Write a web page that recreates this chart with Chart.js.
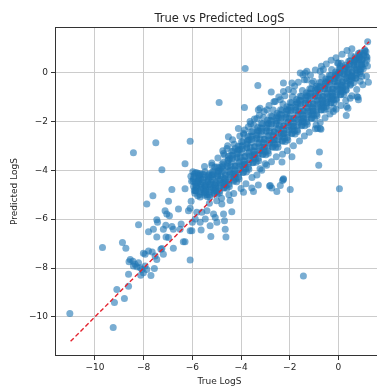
<!DOCTYPE html>
<html>
<head>
<meta charset="utf-8">
<script src="https://cdn.jsdelivr.net/npm/chart.js@4"></script>
<style>
    html, body { margin: 0; padding: 0; overflow: hidden; background: #fff; }
    canvas { display: block; }
</style>
</head>
<body>
<canvas id="myChart" width="395" height="387"></canvas>
<script>
// main diagonal band (true, predicted)
var bandTrue = [
    -6.03, -5.95, -6.06, -5.92, -5.98,
    -5.83, -5.75, -5.86, -5.72, -5.78, -5.88,
    -5.63, -5.55, -5.66, -5.52, -5.58, -5.68, -5.50,
    -5.43, -5.35, -5.46, -5.32, -5.38, -5.48, -5.30, -5.41,
    -5.23, -5.15, -5.26, -5.12, -5.18, -5.28, -5.10, -5.21,
    -5.03, -4.95, -5.06, -4.92, -4.98, -5.08, -4.90, -5.01,
    -4.83, -4.75, -4.86, -4.72, -4.78, -4.88, -4.70, -4.81,
    -4.63, -4.55, -4.66, -4.52, -4.58, -4.68, -4.50, -4.61,
    -4.43, -4.35, -4.46, -4.32, -4.38, -4.48, -4.30, -4.41,
    -4.23, -4.15, -4.26, -4.12, -4.18, -4.28, -4.10, -4.21,
    -4.03, -3.95, -4.06, -3.92, -3.98, -4.08, -3.90, -4.01,
    -3.83, -3.75, -3.86, -3.72, -3.78, -3.88, -3.70, -3.81,
    -3.63, -3.55, -3.66, -3.52, -3.58, -3.68, -3.50, -3.61,
    -3.43, -3.35, -3.46, -3.32, -3.38, -3.48, -3.30, -3.41,
    -3.23, -3.15, -3.26, -3.12, -3.18, -3.28, -3.10, -3.21,
    -3.03, -2.95, -3.06, -2.92, -2.98, -3.08, -2.90, -3.01,
    -2.83, -2.75, -2.86, -2.72, -2.78, -2.88, -2.70, -2.81,
    -2.63, -2.55, -2.66, -2.52, -2.58, -2.68, -2.50, -2.61,
    -2.43, -2.35, -2.46, -2.32, -2.38, -2.48, -2.30, -2.41,
    -2.23, -2.15, -2.26, -2.12, -2.18, -2.28, -2.10, -2.21,
    -2.03, -1.95, -2.06, -1.92, -1.98, -2.08, -1.90, -2.01,
    -1.83, -1.75, -1.86, -1.72, -1.78, -1.88, -1.70, -1.81,
    -1.63, -1.55, -1.66, -1.52, -1.58, -1.68, -1.50, -1.61,
    -1.43, -1.35, -1.46, -1.32, -1.38, -1.48, -1.30, -1.41,
    -1.23, -1.15, -1.26, -1.12, -1.18, -1.28, -1.10, -1.21,
    -1.03, -0.95, -1.06, -0.92, -0.98, -1.08, -0.90, -1.01,
    -0.83, -0.75, -0.86, -0.72, -0.78, -0.88, -0.70, -0.81,
    -0.63, -0.55, -0.66, -0.52, -0.58, -0.68, -0.50, -0.61,
    -0.43, -0.35, -0.46, -0.32, -0.38, -0.48, -0.30, -0.41,
    -0.23, -0.15, -0.26, -0.12, -0.18, -0.28, -0.10, -0.21,
    -0.03, 0.05, -0.06, 0.08, 0.02, -0.08, 0.10, -0.01,
    0.17, 0.25, 0.14, 0.28, 0.22, 0.12, 0.30, 0.19,
    0.37, 0.45, 0.34, 0.48, 0.42, 0.32, 0.50,
    0.57, 0.65, 0.54, 0.68, 0.62, 0.52, 0.70,
    0.77, 0.85, 0.74, 0.88, 0.82, 0.72,
    0.97, 1.05, 0.94, 1.08, 1.02,
    1.13, 1.17
]
var bandPred = [
    -4.45, -4.67, -4.25, -4.83, -4.06,
    -4.66, -4.44, -4.85, -4.24, -5.04, -4.10,
    -4.55, -4.77, -4.35, -4.93, -4.16, -5.10, -4.63,
    -4.66, -4.42, -4.87, -4.21, -5.08, -4.06, -4.57, -4.99,
    -4.49, -4.73, -4.28, -4.91, -4.07, -5.09, -4.58, -4.19,
    -4.52, -4.26, -4.74, -4.03, -4.97, -3.87, -4.42, -4.87,
    -4.23, -4.51, -3.99, -4.72, -3.74, -4.93, -4.34, -3.88,
    -4.18, -3.86, -4.46, -3.58, -4.74, -3.38, -4.06, -4.62,
    -3.82, -4.16, -3.52, -4.41, -3.22, -4.67, -3.94, -3.39,
    -3.84, -3.48, -4.16, -3.17, -4.47, -2.94, -3.71, -4.34,
    -3.46, -3.82, -3.15, -4.09, -2.83, -4.36, -3.60, -3.01,
    -3.44, -3.08, -3.76, -2.77, -4.07, -2.54, -3.31, -3.94,
    -3.06, -3.42, -2.75, -3.69, -2.43, -3.96, -3.20, -2.61,
    -3.04, -2.68, -3.36, -2.37, -3.67, -2.14, -2.91, -3.54,
    -2.71, -3.07, -2.40, -3.34, -2.08, -3.61, -2.85, -2.26,
    -2.74, -2.38, -3.06, -2.07, -3.37, -1.84, -2.61, -3.24,
    -2.41, -2.77, -2.10, -3.04, -1.78, -3.31, -2.55, -1.96,
    -2.44, -2.08, -2.76, -1.77, -3.07, -1.54, -2.31, -2.94,
    -2.16, -2.52, -1.85, -2.79, -1.53, -3.06, -2.30, -1.71,
    -2.19, -1.83, -2.51, -1.52, -2.82, -1.29, -2.06, -2.69,
    -1.86, -2.22, -1.55, -2.49, -1.23, -2.76, -2.00, -1.41,
    -1.89, -1.53, -2.21, -1.22, -2.52, -0.99, -1.76, -2.39,
    -1.57, -1.91, -1.27, -2.16, -0.97, -2.42, -1.69, -1.14,
    -1.59, -1.25, -1.88, -0.95, -2.18, -0.74, -1.46, -2.05,
    -1.27, -1.61, -0.97, -1.86, -0.67, -2.12, -1.39, -0.84,
    -1.29, -0.95, -1.58, -0.65, -1.88, -0.44, -1.16, -1.75,
    -0.97, -1.29, -0.69, -1.53, -0.41, -1.77, -1.09, -0.57,
    -0.98, -0.66, -1.26, -0.38, -1.54, -0.18, -0.86, -1.42,
    -0.67, -0.99, -0.39, -1.23, -0.11, -1.47, -0.79, -0.27,
    -0.68, -0.36, -0.96, -0.08, -1.24, 0.12, -0.56, -1.12,
    -0.38, -0.68, -0.11, -0.90, 0.15, -1.13, -0.49, 0.00,
    -0.38, -0.08, -0.64, 0.19, -0.90, 0.38, -0.26, -0.79,
    -0.03, -0.31, 0.22, -0.52, 0.46, -0.73, -0.14,
    0.04, 0.30, -0.19, 0.52, -0.42, 0.69, 0.13,
    0.36, 0.12, 0.57, -0.06, 0.78, -0.24,
    0.50, 0.70, 0.33, 0.88, 0.15,
    0.85, 0.62
]

// in-between columns of the band, read from the densest part
var denseTrue = [
    -5.86, -5.95, -5.83, -5.92, -5.90, -5.97, -5.85, -5.94, -5.88,
    -5.66, -5.75, -5.63, -5.72, -5.70, -5.77, -5.65, -5.74, -5.68,
    -5.46, -5.55, -5.43, -5.52, -5.50, -5.57, -5.45, -5.54, -5.48,
    -5.26, -5.35, -5.23, -5.32, -5.30, -5.37, -5.25, -5.34, -5.28,
    -5.06, -5.15, -5.03, -5.12, -5.10, -5.17, -5.05, -5.14, -5.08,
    -4.86, -4.95, -4.83, -4.92, -4.90, -4.97, -4.85, -4.94, -4.88,
    -4.66, -4.75, -4.63, -4.72, -4.70, -4.77, -4.65, -4.74, -4.68,
    -4.46, -4.55, -4.43, -4.52, -4.50, -4.57, -4.45, -4.54, -4.48,
    -4.26, -4.35, -4.23, -4.32, -4.30, -4.37, -4.25, -4.34, -4.28,
    -4.06, -4.15, -4.03, -4.12, -4.10, -4.17, -4.05, -4.14, -4.08,
    -3.86, -3.95, -3.83, -3.92, -3.90, -3.97, -3.85, -3.94, -3.88,
    -3.66, -3.75, -3.63, -3.72, -3.70, -3.77, -3.65, -3.74, -3.68,
    -3.46, -3.55, -3.43, -3.52, -3.50, -3.57, -3.45, -3.54, -3.48,
    -3.26, -3.35, -3.23, -3.32, -3.30, -3.37, -3.25, -3.34, -3.28,
    -3.06, -3.15, -3.03, -3.12, -3.10, -3.17, -3.05, -3.14, -3.08,
    -2.86, -2.95, -2.83, -2.92, -2.90, -2.97, -2.85, -2.94, -2.88,
    -2.66, -2.75, -2.63, -2.72, -2.70, -2.77, -2.65, -2.74, -2.68,
    -2.46, -2.55, -2.43, -2.52, -2.50, -2.57, -2.45, -2.54, -2.48,
    -2.26, -2.35, -2.23, -2.32, -2.30, -2.37, -2.25, -2.34, -2.28,
    -2.06, -2.15, -2.03, -2.12, -2.10, -2.17, -2.05, -2.14, -2.08,
    -1.86, -1.95, -1.83, -1.92, -1.90, -1.97, -1.85, -1.94, -1.88,
    -1.66, -1.75, -1.63, -1.72, -1.70, -1.77, -1.65, -1.74, -1.68,
    -1.46, -1.55, -1.43, -1.52, -1.50, -1.57, -1.45, -1.54, -1.48,
    -1.26, -1.35, -1.23, -1.32, -1.30, -1.37, -1.25, -1.34, -1.28,
    -1.06, -1.15, -1.03, -1.12, -1.10, -1.17, -1.05, -1.14, -1.08,
    -0.86, -0.95, -0.83, -0.92, -0.90, -0.97, -0.85, -0.94, -0.88,
    -0.66, -0.75, -0.63, -0.72, -0.70, -0.77, -0.65, -0.74, -0.68,
    -0.46, -0.55, -0.43, -0.52, -0.50, -0.57, -0.45, -0.54, -0.48,
    -0.26, -0.35, -0.23, -0.32, -0.30, -0.37, -0.25, -0.34, -0.28,
    -0.06, -0.15, -0.03, -0.12, -0.10, -0.17, -0.05, -0.14, -0.08,
    0.14, 0.05, 0.17, 0.08, 0.10, 0.03, 0.15, 0.06, 0.12,
    0.34, 0.25, 0.37, 0.28, 0.30, 0.23, 0.35, 0.26, 0.32,
    0.54, 0.45, 0.57, 0.48, 0.50, 0.43, 0.55, 0.46, 0.52,
    0.74, 0.65, 0.77, 0.68, 0.70, 0.63, 0.75, 0.66, 0.72,
    0.94, 0.85, 0.97, 0.88, 0.90, 0.83, 0.95, 0.86, 0.92,
    1.14, 1.05, 1.17, 1.08, 1.10
]
var densePred = [
    -4.55, -4.36, -4.74, -4.16, -4.94, -4.44, -4.66, -4.27, -4.83,
    -4.60, -4.41, -4.79, -4.21, -4.99, -4.49, -4.71, -4.32, -4.88,
    -4.60, -4.39, -4.81, -4.18, -5.02, -4.48, -4.72, -4.30, -4.90,
    -4.58, -4.37, -4.79, -4.16, -5.00, -4.46, -4.70, -4.28, -4.88,
    -4.50, -4.27, -4.73, -4.04, -4.96, -4.37, -4.63, -4.17, -4.83,
    -4.38, -4.14, -4.62, -3.90, -4.86, -4.24, -4.52, -4.04, -4.72,
    -4.20, -3.94, -4.46, -3.67, -4.73, -4.05, -4.35, -3.82, -4.58,
    -4.00, -3.71, -4.29, -3.43, -4.57, -3.84, -4.16, -3.59, -4.41,
    -3.83, -3.52, -4.14, -3.21, -4.45, -3.65, -4.01, -3.39, -4.27,
    -3.65, -3.33, -3.97, -3.02, -4.28, -3.47, -3.83, -3.20, -4.10,
    -3.45, -3.13, -3.77, -2.82, -4.08, -3.27, -3.63, -3.00, -3.90,
    -3.25, -2.93, -3.57, -2.62, -3.88, -3.07, -3.43, -2.80, -3.70,
    -3.05, -2.73, -3.37, -2.42, -3.68, -2.87, -3.23, -2.60, -3.50,
    -2.88, -2.56, -3.20, -2.25, -3.51, -2.70, -3.06, -2.43, -3.33,
    -2.73, -2.41, -3.05, -2.10, -3.36, -2.55, -2.91, -2.28, -3.18,
    -2.58, -2.26, -2.90, -1.95, -3.21, -2.40, -2.76, -2.13, -3.03,
    -2.43, -2.11, -2.75, -1.80, -3.06, -2.25, -2.61, -1.98, -2.88,
    -2.30, -1.98, -2.62, -1.67, -2.93, -2.12, -2.48, -1.85, -2.75,
    -2.18, -1.86, -2.50, -1.55, -2.81, -2.00, -2.36, -1.73, -2.63,
    -2.03, -1.71, -2.35, -1.40, -2.66, -1.85, -2.21, -1.58, -2.48,
    -1.88, -1.56, -2.20, -1.25, -2.51, -1.70, -2.06, -1.43, -2.33,
    -1.73, -1.42, -2.04, -1.11, -2.35, -1.55, -1.91, -1.29, -2.17,
    -1.58, -1.28, -1.88, -0.98, -2.18, -1.41, -1.75, -1.15, -2.01,
    -1.43, -1.13, -1.73, -0.83, -2.03, -1.26, -1.60, -1.00, -1.86,
    -1.28, -0.98, -1.58, -0.68, -1.88, -1.11, -1.45, -0.85, -1.71,
    -1.13, -0.84, -1.42, -0.56, -1.70, -0.97, -1.29, -0.72, -1.54,
    -0.98, -0.70, -1.26, -0.42, -1.54, -0.82, -1.14, -0.58, -1.38,
    -0.83, -0.55, -1.11, -0.27, -1.39, -0.67, -0.99, -0.43, -1.23,
    -0.68, -0.40, -0.96, -0.12, -1.24, -0.52, -0.84, -0.28, -1.08,
    -0.53, -0.26, -0.80, 0.02, -1.08, -0.37, -0.69, -0.14, -0.92,
    -0.38, -0.12, -0.64, 0.15, -0.91, -0.23, -0.53, 0.00, -0.76,
    -0.20, 0.05, -0.45, 0.30, -0.70, -0.06, -0.34, 0.16, -0.56,
    0.00, 0.24, -0.24, 0.48, -0.48, 0.14, -0.14, 0.34, -0.34,
    0.20, 0.42, -0.02, 0.63, -0.23, 0.32, 0.08, 0.51, -0.11,
    0.42, 0.61, 0.23, 0.81, 0.03, 0.53, 0.31, 0.70, 0.14,
    0.65, 0.79, 0.51, 0.93, 0.37
]

// ragged upper and lower edges of the band
var edgeTrue = [
    -5.50, -5.20, -4.95, -4.75, -4.55, -4.35, -4.05, -3.85, -3.60, -3.45,
    -3.25, -3.05, -2.85, -2.65, -2.45, -2.20, -2.05, -1.80, -1.65, -1.40,
    -1.15, -0.95, -0.70, -0.50, -0.30, -0.10, 0.15, 0.35,
    -5.30, -5.00, -4.80, -4.50, -4.30, -4.00, -3.80, -3.55, -3.35, -3.15,
    -2.95, -2.75, -2.55, -2.30, -2.10, -1.85, -1.60, -1.40, -1.20, -0.95,
    -0.75, -0.55, -0.35, -0.10, 0.10, 0.30, 0.55, 0.75, 1.00, 1.15
]
var edgePred = [
    -3.85, -3.70, -3.50, -3.20, -3.00, -2.75, -2.60, -2.35, -2.10, -1.90,
    -1.75, -1.60, -1.35, -1.20, -1.00, -0.95, -0.70, -0.55, -0.40, -0.30,
    -0.10, 0.10, 0.25, 0.35, 0.50, 0.60, 0.75, 0.90,
    -5.35, -5.25, -5.15, -5.00, -4.95, -4.75, -4.55, -4.30, -4.20, -4.00,
    -3.80, -3.65, -3.45, -3.35, -3.20, -3.00, -2.80, -2.60, -2.45, -2.30,
    -2.05, -1.85, -1.70, -1.50, -1.35, -1.15, -0.95, -0.70, -0.50, -0.15
]

// scattered points away from the band (true, predicted)
var spreadTrue = [
    -11.03, -9.25, -9.69, -8.87, -8.73, -8.60, -8.62, -9.10, -9.20, -8.79, -8.62,
    -8.55, -8.44, -8.35, -8.21, -8.42, -8.28, -8.14, -8.07, -7.94, -7.87, -8.01, -8.12,
    -7.56, -7.70, -7.65, -7.80, -7.94, -8.01, -7.46, -7.53, -7.19, -6.09, -7.29, -7.25,
    -6.78, -6.30, -6.37, -7.46, -7.08, -6.98, -6.09, -6.02, -5.64,
    -8.21, -7.80, -7.60, -7.19, -7.09, -6.84, -6.78, -6.50, -6.46, -7.46, -7.43,
    -7.12, -7.05, -6.94, -6.16, -6.09, -6.57, -7.62, -7.87, -6.05, -6.98,
    -6.84, -6.30, -7.25, -5.82, -5.68, -5.75, -5.88, -6.00,
    -4.45, -4.38, -4.79, -4.72, -4.68, -4.65, -4.62, -5.06, -4.99, -5.13, -5.24, -5.27,
    -5.68, -5.47, -5.88, -5.82, -5.61, -5.40,
    -8.42, -7.50, -6.09, -6.30, -4.90, -3.86, -3.83, -3.31,
    -4.52, -4.11, -3.29, -2.76, -2.26, -1.91, -1.85, -1.57, -1.46, -1.30, -1.37,
    -3.63, -3.35, -2.94, -2.60, -2.39, -3.22, -3.70, -3.90, -4.24, -4.58, -4.72,
    -5.20, -4.99, -3.90, -3.29, -3.49, -3.56, -2.83, -2.74, -2.53, -2.30, -2.26,
    -2.26, -2.39, -2.80, -1.98, -3.01, -3.22, -2.32, -1.91,
    -0.78, -0.81, -0.92, -0.75, -0.86, -0.72, -0.21, -0.48, -1.44, 0.04,
    1.20, 0.55, 0.89, 0.69, 0.86, 0.96, 1.19, 1.23, 0.96, 0.89,
    0.48, 0.80, 0.76, 0.82, 0.34, 0.32, 0.39, -0.21, 0.41, 0.55,
    0.00, 0.07, -0.04, -0.75, -0.62, -1.30, -1.03, -2.26
]
var spreadPred = [
    -9.86, -10.43, -7.16, -6.96, -7.19, -7.74, -8.26, -8.88, -9.41, -9.25, -8.75,
    -7.65, -7.72, -7.85, -7.78, -7.92, -7.95, -7.99, -8.06, -7.92, -8.06, -8.19, -8.30,
    -8.02, -8.31, -7.35, -7.30, -7.44, -7.40, -7.65, -7.51, -7.44, -7.67, -7.23, -7.20,
    -7.19, -6.93, -6.93, -6.73, -6.73, -6.75, -6.48, -6.48, -6.44,
    -6.23, -6.52, -6.41, -6.41, -6.25, -6.30, -6.41, -6.41, -6.20, -6.03, -6.13,
    -5.66, -5.79, -5.86, -5.66, -5.56, -5.59, -5.04, -5.38, -5.27, -5.27,
    -4.79, -4.76, -3.98, -4.10, -4.14, -4.14, -4.48, -6.13,
    -5.24, -5.70, -5.38, -5.79, -6.07, -6.41, -6.73, -5.93, -6.13, -5.79, -6.71, -6.27,
    -6.13, -6.00, -6.00, -5.72, -5.72, -5.66,
    -3.28, -2.88, -2.81, -3.73, -1.23, -1.43, 0.16, -0.53,
    -2.63, -2.29, -1.53, -0.80, -0.43, -0.43, -0.78, -0.02, -0.09, 0.05, -0.02,
    -2.01, -1.88, -1.53, -1.19, -1.12, -1.46, -2.22, -2.49, -3.11, -3.11, -3.32,
    -3.80, -3.87, -4.90, -4.60, -4.87, -4.73, -4.65, -4.73, -4.87, -4.42, -4.38,
    -4.35, -4.62, -4.62, -4.79, -3.73, -3.94, -3.66, -3.45,
    -3.25, -3.80, -2.15, -2.29, -2.29, -2.32, -1.60, -1.26, -8.33, -4.76,
    1.26, 0.97, 0.67, 0.46, 0.60, 0.53, 0.26, -0.40, -0.16, -0.36,
    -1.05, -1.01, -0.98, -1.12, -1.39, -1.76, -1.46, -1.46, -0.02, -0.16,
    0.39, 0.26, 0.39, 0.05, 0.12, -0.30, -0.36, -0.78
]

// y = x reference line and axis ticks
var lineTrue = [-11.0, 1.26]
var xTicks = [-10, -8, -6, -4, -2, 0]
var yTicks = [-10, -8, -6, -4, -2, 0]

var allTrue = bandTrue.concat(denseTrue, edgeTrue, spreadTrue)
var allPred = bandPred.concat(densePred, edgePred, spreadPred)

var font = "DejaVu Sans"
var textColor = "#262626"

function fmtTick(v) {
    return v < 0 ? "\u2212" + Math.abs(v) : String(v)
}

var frame = {
    id: "frame",
    afterDraw: function (chart) {
        var a = chart.chartArea
        var ctx = chart.ctx
        ctx.save()
        ctx.strokeStyle = "#333"
        ctx.lineWidth = 1
        ctx.strokeRect(a.left + 0.5, a.top + 0.5, a.right - a.left - 1, a.bottom - a.top - 1)
        ctx.restore()
    }
}

var ctx = document.getElementById("myChart").getContext("2d")
new Chart(ctx, {
    type: "scatter",
    data: {
        datasets: [{
            label: "y = x",
            data: lineTrue.map(function (v) { return {x: v, y: v} }),
            showLine: true,
            borderColor: "#e3222e",
            borderWidth: 1.4,
            borderDash: [4.5, 2.5],
            pointRadius: 0,
            order: 0
        }, {
            label: "LogS",
            data: allTrue.map(function (v, i) { return {x: v, y: allPred[i]} }),
            backgroundColor: "rgba(31, 119, 180, 0.6)",
            borderWidth: 0,
            pointRadius: 3.5,
            order: 1
        }]
    },
    options: {
        responsive: false,
        animation: false,
        layout: { padding: { left: 0, right: 11, top: 0, bottom: 0 } },
        plugins: {
            legend: { display: false },
            tooltip: { enabled: false },
            title: {
                display: true,
                text: "True vs Predicted LogS",
                fullSize: false,
                color: textColor,
                font: { family: font, size: 11.5, weight: "normal" },
                padding: { top: 12, bottom: 1.2 }
            }
        },
        scales: {
            x: {
                type: "linear",
                min: -11.64,
                max: 1.87,
                z: 1,
                afterFit: function (s) { s.height = 31 },
                afterBuildTicks: function (s) { s.ticks = xTicks.map(function (v) { return {value: v} }) },
                border: { display: false },
                grid: { color: "#cccccc", lineWidth: 1, tickLength: 4, tickColor: "#333" },
                ticks: { color: textColor, font: { family: font, size: 9 }, padding: 2, maxRotation: 0, callback: fmtTick },
                title: { display: true, text: "True LogS", color: textColor, font: { family: font, size: 9 }, padding: { top: 0, bottom: 0 } }
            },
            y: {
                type: "linear",
                min: -11.6,
                max: 1.86,
                z: 1,
                afterFit: function (s) { s.width = 55 },
                afterBuildTicks: function (s) { s.ticks = yTicks.map(function (v) { return {value: v} }) },
                border: { display: false },
                grid: { color: "#cccccc", lineWidth: 1, tickLength: 4, tickColor: "#333" },
                ticks: { color: textColor, font: { family: font, size: 9 }, padding: 3, callback: fmtTick },
                title: { display: true, text: "Predicted LogS", color: textColor, font: { family: font, size: 9 }, padding: { top: 9, bottom: 0 } }
            }
        }
    },
    plugins: [frame]
})
</script>
</body>
</html>
